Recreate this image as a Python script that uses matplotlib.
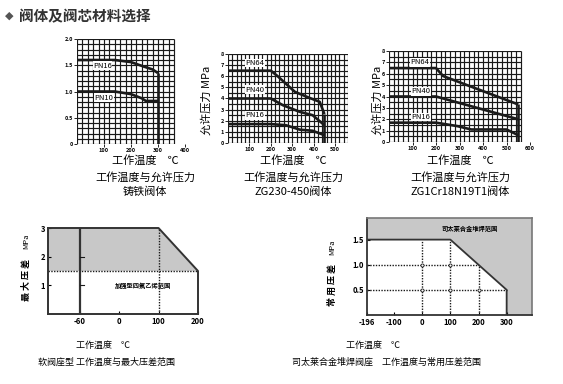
"""
plot.py
Valve body / seat material selection charts (pressure vs temperature).
"""

import matplotlib
matplotlib.use("Agg")
import matplotlib.pyplot as plt

plt.rcParams["font.family"] = ["Noto Sans CJK SC", "DejaVu Sans"]

W, H = 563, 384
INK = "#1a1a1a"
GRAY = "#c8c8c8"

# chart 1: cast iron body
c1_pn16_t = [0, 140, 200, 250, 280, 300]
c1_pn16_p = [1.6, 1.6, 1.56, 1.47, 1.42, 1.35]
c1_pn10_t = [0, 140, 200, 240, 255, 300]
c1_pn10_p = [1.0, 1.0, 0.95, 0.87, 0.82, 0.82]

# chart 2: ZG230-450 body
c2_pn64_t = [0, 200, 232, 312, 381, 428, 450]
c2_pn64_p = [6.5, 6.5, 6.0, 4.6, 4.05, 3.7, 2.6]
c2_pn40_t = [0, 200, 256, 335, 395, 450]
c2_pn40_p = [4.0, 4.0, 3.4, 2.8, 2.5, 1.6]
c2_pn16_t = [0, 200, 270, 335, 395, 450]
c2_pn16_p = [1.7, 1.7, 1.6, 1.2, 1.1, 0.7]

# chart 3: ZG1Cr18Ni9Ti body
c3_pn64_t = [0, 200, 230, 550]
c3_pn64_p = [6.5, 6.5, 5.8, 3.3]
c3_pn40_t = [0, 200, 550]
c3_pn40_p = [4.0, 4.0, 2.0]
c3_pn16_t = [0, 200, 290, 350, 500, 550]
c3_pn16_p = [1.7, 1.7, 1.4, 1.1, 1.1, 0.6]

# chart 4: soft seat, max pressure difference
c4_tick_pos = [-100, 0, 100, 200]
c4_tick_lab = ["-60", "0", "100", "200"]
c4_edge_t = [-180, 100, 200, 200]
c4_edge_p = [3, 3, 1.5, 0]
c4_fill_t = [-180, -180, 100, 200]
c4_fill_p = [1.5, 3, 3, 1.5]

# chart 5: stellite seat, common pressure difference
c5_ticks = [-196, -100, 0, 100, 200, 300]
c5_white_t = [-196, -196, 100, 200, 300, 300]
c5_white_p = [0, 1.5, 1.5, 1.0, 0.5, 0]


def px_axes(fig, left, top, right, bottom):
    return fig.add_axes([left / W, 1 - bottom / H, (right - left) / W, (bottom - top) / H])


def ftext(fig, x, y, s, **kw):
    kw.setdefault("ha", "center")
    kw.setdefault("va", "center")
    fig.text(x / W, 1 - y / H, s, **kw)


def grid_chart(ax, xlim, gx, gy, xticks, yticks, ylabels, curves, end_t, end_p):
    ax.set_xlim(*xlim)
    ax.set_ylim(0, gy[-1])
    for s in ax.spines.values():
        s.set_visible(False)
    ax.vlines(gx, 0, gy[-1], color=INK, lw=0.85)
    ax.hlines(gy, 0, gx[-1], color=INK, lw=0.85)
    for t, p, name, lx, ly in curves:
        ax.plot(t, p, color=INK, lw=1.9, solid_capstyle="butt")
        ax.text(lx, ly, name, fontsize=5.5, ha="center", va="center",
                bbox=dict(fc="white", ec="none", pad=0.3))
    ax.vlines(end_t, 0, end_p, color=INK, lw=1.9)
    ax.set_xticks(xticks)
    ax.set_xticklabels([str(v) for v in xticks])
    ax.set_yticks(yticks)
    ax.set_yticklabels(ylabels)
    ax.tick_params(labelsize=4, length=2, width=0.6, pad=1)
    for lab in ax.get_xticklabels() + ax.get_yticklabels():
        lab.set_fontweight("bold")


fig = plt.figure(figsize=(W / 100, H / 100), dpi=100)

ftext(fig, 9, 16, "◆", fontsize=8, color="#555555", family=["DejaVu Sans"])
ftext(fig, 85, 16, "阀体及阀芯材料选择", fontsize=10.5, fontweight="bold", color="#333333")

# chart 1
ax1 = px_axes(fig, 77, 39, 185, 144)
grid_chart(ax1, (0, 400), list(range(0, 361, 20)), [i / 10 for i in range(21)],
           [100, 200, 300, 400], [0, 0.5, 1.0, 1.5, 2.0], ["0", "0.5", "1.0", "1.5", "2.0"],
           [(c1_pn16_t, c1_pn16_p, "PN16", 95, 1.49),
            (c1_pn10_t, c1_pn10_p, "PN10", 100, 0.88)],
           c1_pn16_t[-1], c1_pn16_p[-1])
ftext(fig, 145, 160, "工作温度　℃", fontsize=8)
ftext(fig, 145, 177, "工作温度与允许压力", fontsize=8)
ftext(fig, 145, 192, "铸铁阀体", fontsize=8)

# chart 2
ax2 = px_axes(fig, 228, 54, 348, 143)
grid_chart(ax2, (0, 560), list(range(0, 561, 20)), [i / 2 for i in range(17)],
           [100, 200, 300, 400, 500], list(range(9)), [str(v) for v in range(9)],
           [(c2_pn64_t, c2_pn64_p, "PN64", 125, 7.2),
            (c2_pn40_t, c2_pn40_p, "PN40", 125, 4.8),
            (c2_pn16_t, c2_pn16_p, "PN16", 125, 2.5)],
           c2_pn64_t[-1], c2_pn64_p[-1])
ftext(fig, 206, 100, "允许压力 MPa", fontsize=8, rotation=90)
ftext(fig, 293, 160, "工作温度　℃", fontsize=8)
ftext(fig, 293, 177, "工作温度与允许压力", fontsize=8)
ftext(fig, 293, 192, "ZG230-450阀体", fontsize=8)

# chart 3
ax3 = px_axes(fig, 389, 51, 530, 142)
grid_chart(ax3, (0, 600), list(range(0, 561, 20)), [i / 2 for i in range(17)],
           [100, 200, 300, 400, 500, 600], list(range(9)), [str(v) for v in range(9)],
           [(c3_pn64_t, c3_pn64_p, "PN64", 132, 7.0),
            (c3_pn40_t, c3_pn40_p, "PN40", 135, 4.45),
            (c3_pn16_t, c3_pn16_p, "PN16", 135, 2.2)],
           c3_pn64_t[-1], c3_pn64_p[-1])
ftext(fig, 377, 100, "允许压力 MPa", fontsize=8, rotation=90)
ftext(fig, 460, 160, "工作温度　℃", fontsize=8)
ftext(fig, 460, 177, "工作温度与允许压力", fontsize=8)
ftext(fig, 460, 192, "ZG1Cr18N19T1阀体", fontsize=8)

# chart 4
ax4 = px_axes(fig, 48, 228, 198, 314)
ax4.set_xlim(-180, 200)
ax4.set_ylim(0, 3)
ax4.fill(c4_fill_t, c4_fill_p, color=GRAY, lw=0)
ax4.plot([-180, 200], [1.5, 1.5], color=INK, lw=1.0, ls=(0, (1, 1)), clip_on=False)
ax4.plot([100, 100], [0, 3], color=INK, lw=1.0, ls=(0, (1, 1)))
ax4.plot([-100, -100], [0, 3], color="#333333", lw=1.6)
ax4.plot([-100, -90], [2, 2], color=INK, lw=0.8)
ax4.plot([-100, -90], [1, 1], color=INK, lw=0.8)
ax4.plot(c4_edge_t, c4_edge_p, color="#333333", lw=1.4, clip_on=False)
for side in ("top", "right"):
    ax4.spines[side].set_visible(False)
for side in ("left", "bottom"):
    ax4.spines[side].set_linewidth(1.4)
    ax4.spines[side].set_color("#333333")
ax4.set_xticks(c4_tick_pos)
ax4.set_xticklabels(c4_tick_lab)
ax4.set_yticks([1, 2, 3])
ax4.tick_params(labelsize=5.5, length=2, direction="in", pad=2)
for lab in ax4.get_xticklabels() + ax4.get_yticklabels():
    lab.set_fontweight("bold")
ax4.text(60, 1.0, "加强型四氟乙烯范围", fontsize=4.5, fontweight="bold", ha="center", va="center")
ftext(fig, 26, 241, "MPa", fontsize=5.5, rotation=90)
ftext(fig, 26, 280, "最 大 压 差", fontsize=6.5, fontweight="bold", rotation=90)
ftext(fig, 103, 345, "工作温度　℃", fontsize=6.5)
ftext(fig, 106, 362, "软阀座型 工作温度与最大压差范围", fontsize=6.5)

# chart 5
ax5 = px_axes(fig, 367, 218, 532, 315)
ax5.set_xlim(-196, 390)
ax5.set_ylim(0, 1.93)
ax5.set_facecolor(GRAY)
ax5.fill(c5_white_t, c5_white_p, color="white", lw=0)
dot = dict(color=INK, lw=1.0, ls=(0, (1, 1)))
ax5.plot([-196, 200], [1.0, 1.0], **dot)
ax5.plot([-196, 300], [0.5, 0.5], **dot)
ax5.plot([0, 0], [0, 1.5], **dot)
ax5.plot([100, 100], [0, 1.5], **dot)
ax5.plot([200, 200], [0, 1.0], **dot)
ax5.plot([0, 0, 100, 100, 200], [1.0, 0.5, 1.0, 0.5, 0.5], ls="none", marker="o",
         ms=2.2, mfc="white", mec=INK, mew=0.6)
ax5.plot(c5_white_t[1:], c5_white_p[1:], color="#333333", lw=1.3)
for side in ("top", "right"):
    ax5.spines[side].set_color("#777777")
    ax5.spines[side].set_linewidth(1.2)
for side in ("left", "bottom"):
    ax5.spines[side].set_color("#333333")
    ax5.spines[side].set_linewidth(1.3)
ax5.set_xticks(c5_ticks)
ax5.set_xticklabels([str(v) for v in c5_ticks])
ax5.set_yticks([0.5, 1.0, 1.5])
ax5.set_yticklabels(["0.5", "1.0", "1.5"])
ax5.tick_params(labelsize=5.5, length=2, direction="in", pad=2)
for lab in ax5.get_xticklabels() + ax5.get_yticklabels():
    lab.set_fontweight("bold")
ax5.text(170, 1.72, "司太莱合金堆焊范围", fontsize=4.5, fontweight="bold", ha="center", va="center")
ftext(fig, 332, 247, "MPa", fontsize=5.5, rotation=90)
ftext(fig, 332, 285, "常 用 压 差", fontsize=6.5, fontweight="bold", rotation=90)
ftext(fig, 373, 345, "工作温度　℃", fontsize=6.5)
ftext(fig, 387, 362, "司太莱合金堆焊阀座　工作温度与常用压差范围", fontsize=6.5)

fig.savefig("out.png", dpi=100, facecolor="white")
